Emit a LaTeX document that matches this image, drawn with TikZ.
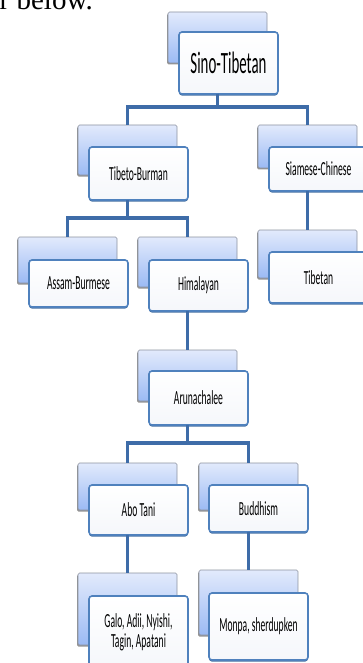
\documentclass[tikz,border=0pt]{standalone}
\usepackage{fontspec}
\setmainfont{Liberation Serif}
\newfontfamily\chartfont{Carlito}[FakeStretch=0.48]
\usetikzlibrary{shadows}
\definecolor{linkblue}{RGB}{62,108,168}
\definecolor{edgeblue}{RGB}{79,129,189}
\definecolor{backtop}{RGB}{226,234,252}
\definecolor{backbot}{RGB}{155,186,244}
\definecolor{backedge}{RGB}{140,146,160}

\begin{document}
\begin{tikzpicture}[x=1pt, y=-1pt,
    backbox/.style={draw=backedge, line width=0.6pt, rounded corners=1.5pt,
        top color=backtop, bottom color=backbot, minimum width=99pt,
        inner sep=0pt, outer sep=0pt, anchor=north west,
        drop shadow={shadow xshift=-1pt, shadow yshift=-1.5pt, fill=black!60, opacity=0.7}},
    frontbox/.style={draw=edgeblue, line width=1.6pt, rounded corners=3pt,
        top color=white, bottom color={rgb,255:red,245;green,247;blue,251},
        minimum width=99pt, inner sep=0pt, outer sep=0pt, anchor=north west,
        align=center, text=black,
        font=\chartfont\fontsize{20}{20}\selectfont,
        drop shadow={shadow xshift=0pt, shadow yshift=-1.6pt, fill=edgeblue!85!black, opacity=1}},
    link/.style={draw=linkblue, line width=3.2pt}]

    % page frame, clipped like the scan
    \path[use as bounding box, clip] (0,0) rectangle (363,663);

    % line of text above the chart
    \node[anchor=base east, inner sep=0pt, font=\fontsize{29}{32}\selectfont] (intro) at (93,10) {r below.};

    % back cards
    \node[backbox, minimum height=51pt] (sinoB) at (168,12) {};
    \node[backbox, minimum height=50pt] (tibburB) at (78,125) {};
    \node[backbox, minimum height=43pt] (siamB) at (258,125) {};
    \node[backbox, minimum height=46pt] (assamB) at (18,237) {};
    \node[backbox, minimum height=50pt] (himalB) at (138,237) {};
    \node[backbox, minimum height=48pt] (tibetanB) at (258,230) {};
    \node[backbox, minimum height=51pt] (arunB) at (138,350) {};
    \node[backbox, minimum height=47pt] (aboB) at (78,463) {};
    \node[backbox, minimum height=47pt] (buddhB) at (199,463) {};
    \node[backbox, minimum height=72pt] (galoB) at (78,573) {};
    \node[backbox, minimum height=65pt] (monpaB) at (199,570) {};

    % front cards with the names
    \node[frontbox, minimum height=62pt, font=\chartfont\fontsize{31}{32}\selectfont]
        (sino) at ([shift={(11,20)}]sinoB.north west) {Sino-Tibetan};
    \node[frontbox, minimum height=53pt] (tibbur) at ([shift={(11,22)}]tibburB.north west) {Tibeto-Burman};
    \node[frontbox, minimum height=44pt] (siam) at ([shift={(11,22)}]siamB.north west) {Siamese-Chinese};
    \node[frontbox, minimum height=47pt] (assam) at ([shift={(11,23)}]assamB.north west) {Assam-Burmese};
    \node[frontbox, minimum height=51pt] (himal) at ([shift={(11,23)}]himalB.north west) {Himalayan};
    \node[frontbox, minimum height=51pt] (tibetan) at ([shift={(11,22)}]tibetanB.north west) {Tibetan};
    \node[frontbox, minimum height=54pt] (arun) at ([shift={(11,21)}]arunB.north west) {Arunachalee};
    \node[frontbox, minimum height=50pt] (abo) at ([shift={(11,22)}]aboB.north west) {Abo Tani};
    \node[frontbox, minimum height=47pt] (buddh) at ([shift={(10,22)}]buddhB.north west) {Buddhism};
    \node[frontbox, minimum height=72pt] (galo) at ([shift={(11,23)}]galoB.north west) {Galo, Adii, Nyishi,\\Tagin, Apatani};
    \node[frontbox, minimum height=67pt] (monpa) at ([shift={(10,23)}]monpaB.north west) {Monpa, sherdupken};

    % branches
    \draw[link] (sinoB.center |- sino.south) -- ++(0,13) -| (tibburB.north);
    \draw[link] (sinoB.center |- sino.south) -- ++(0,13) -| (siamB.north);
    \draw[link] (tibburB.center |- tibbur.south) -- ++(0,18) -| (assamB.north);
    \draw[link] (tibburB.center |- tibbur.south) -- ++(0,18) -| (himalB.north);
    \draw[link] (arunB.center |- arun.south) -- ++(0,18) -| (aboB.north);
    \draw[link] (arunB.center |- arun.south) -- ++(0,18) -| (buddhB.north);

    % single links
    \draw[link] (siamB.center |- siam.south) -- (tibetanB.north);
    \draw[link] (himalB.center |- himal.south) -- (arunB.north);
    \draw[link] (aboB.center |- abo.south) -- (galoB.north);
    \draw[link] (buddhB.center |- buddh.south) -- (monpaB.north);
\end{tikzpicture}
\end{document}
